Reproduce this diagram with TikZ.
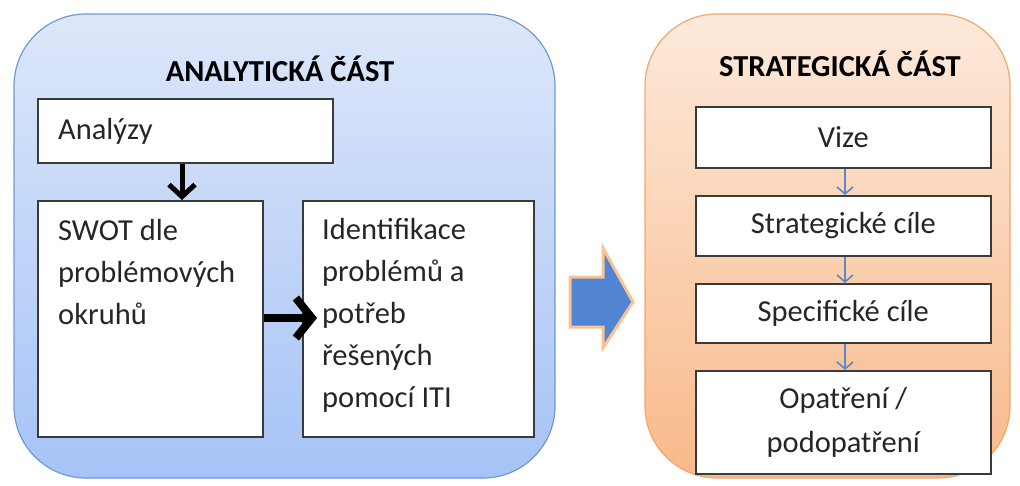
\documentclass[tikz,border=0pt]{standalone}
\usepackage{fontspec}
\setmainfont{Carlito}
\usetikzlibrary{positioning,arrows.meta,calc}
\definecolor{bluetop}{HTML}{DDE7F9}
\definecolor{bluebot}{HTML}{A6C3F7}
\definecolor{blueline}{HTML}{6E9AD2}
\definecolor{orangetop}{HTML}{FDEADB}
\definecolor{orangebot}{HTML}{F8B98A}
\definecolor{orangeline}{HTML}{F2A76E}
\definecolor{bigarrow}{HTML}{5185D3}
\definecolor{bigrim}{HTML}{F9C293}
\definecolor{stepblue}{HTML}{5A88C6}
\definecolor{frame}{HTML}{3A3A3A}

\tikzset{
  box/.style={draw=frame,line width=1.6pt,fill=white,anchor=north west,inner sep=0pt},
  txt/.style={font=\fontsize{30.5}{42}\selectfont,text=black!85,align=left,anchor=base west,inner sep=0pt},
  ctxt/.style={font=\fontsize{30.5}{44}\selectfont,text=black!85,align=center},
  heading/.style={font=\fontsize{30.5}{34}\selectfont\bfseries,text=black,anchor=base},
  down arrow/.style={line width=5pt,-{Straight Barb[length=12pt,width=26pt]}},
  side arrow/.style={line width=8pt,-{Straight Barb[length=16pt,width=40pt]}},
  step arrow/.style={draw=stepblue,line width=1.6pt,-{Straight Barb[length=7pt,width=16pt]}}
}

\begin{document}
\begin{tikzpicture}[x=1pt,y=-1pt]
  \useasboundingbox (0,0) rectangle (1020,485);
  % analytic part
  \shade[top color=bluetop,bottom color=bluebot,draw=blueline,line width=1.2pt,rounded corners=72pt]
    (14,14) rectangle (555,478);
  \node[heading] (antitle) at (280,81) {ANALYTICKÁ ČÁST};
  \node[box,minimum width=295,minimum height=64] (analyzy) at (37,98) {};
  \node[txt] (analyzytxt) at (58,139) {Analýzy};
  \node[box,minimum width=225,minimum height=236] (swot) at (37,200) {};
  % base = last line here
  \node[txt] (swottxt) at (58,324) {SWOT dle\\problémových\\okruhů};
  \node[box,minimum width=231,minimum height=236] (ident) at (302,200) {};
  \node[txt] (identtxt) at (322,407) {Identifikace\\problémů a\\potřeb\\řešených\\pomocí ITI};
  \draw[down arrow] (analyzy.south -| 182,0) -- (swot.north -| 182,0);
  \draw[side arrow] (swot.east |- 0,318) -- (317,318);
  % transition
  \draw[bigrim,line width=3pt,fill=bigarrow,line join=miter]
    (570,277) -- (603,277) -- (603,248) -- (633,302) -- (603,348) -- (603,327) -- (570,327) -- cycle;
  % strategic part
  \shade[top color=orangetop,bottom color=orangebot,draw=orangeline,line width=1.2pt,rounded corners=72pt]
    (645,14) rectangle (1010,478);
  \node[heading] (sttitle) at (840,76) {STRATEGICKÁ ČÁST};
  \node[box,minimum width=295,minimum height=61] (vize) at (695,106) {};
  \node[ctxt] at (vize.center) {Vize};
  \node[box,minimum width=295,minimum height=60] (cile) at (695,195) {};
  \node[ctxt] at (cile.center) {Strategické cíle};
  \node[box,minimum width=295,minimum height=59] (spec) at (695,283) {};
  \node[ctxt] at (spec.center) {Specifické cíle};
  \node[box,minimum width=295,minimum height=103] (opatr) at (695,370) {};
  \node[ctxt] at (opatr.center) {Opatření /\\podopatření};
  \foreach \a/\b in {vize/cile,cile/spec,spec/opatr}
    \draw[step arrow] (\a.south -| 845,0) -- (\b.north -| 845,0);
\end{tikzpicture}
\end{document}
